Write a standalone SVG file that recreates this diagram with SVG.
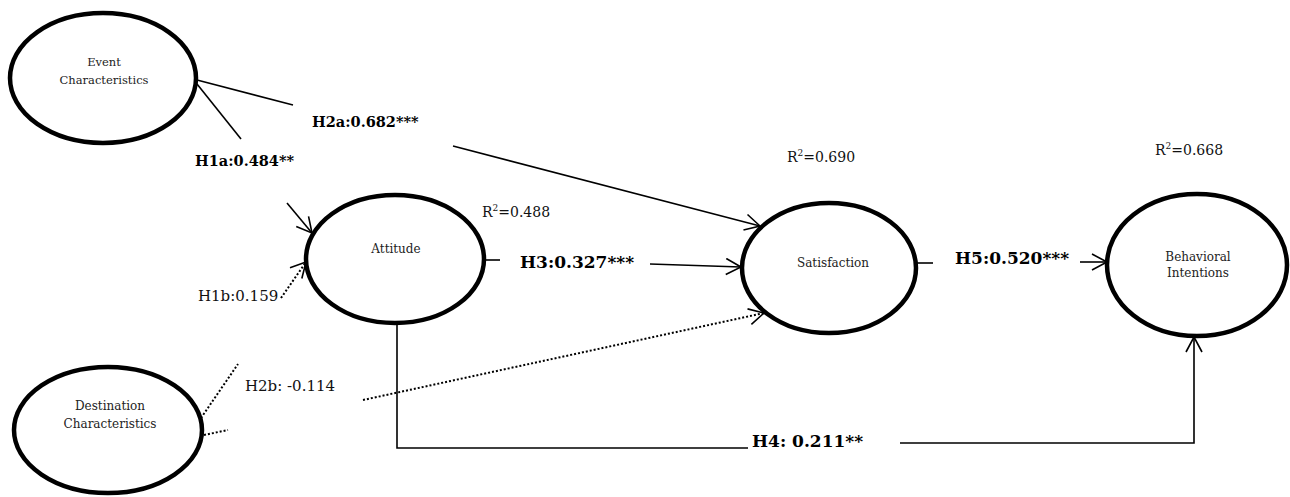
<svg xmlns="http://www.w3.org/2000/svg" width="1290" height="497" viewBox="0 0 1290 497">
<style>
.node ellipse{fill:#fff;stroke:#000;stroke-width:4.5}
.nt{font-family:"DejaVu Serif","Liberation Serif",serif;font-size:12px;fill:#222;text-anchor:middle}
.lbl{font-family:"DejaVu Serif","Liberation Serif",serif;font-size:15px;fill:#111}
.r2{font-size:14px}
.b{font-weight:bold;font-size:14.5px;fill:#000}
.bl{font-size:17px}
.c line,.c path{stroke:#000;stroke-width:1.6;fill:none}
.c .dot{stroke-width:2;stroke-dasharray:2 2}
</style>
<defs>
<marker id="ah" viewBox="-16 -9 18 18" refX="0" refY="0" markerWidth="18" markerHeight="18" markerUnits="userSpaceOnUse" orient="auto">
<path d="M-15,-8 L0,0 L-15,8" fill="none" stroke="#000" stroke-width="1.6"/>
</marker>
</defs>
<rect width="1290" height="497" fill="#fff"/>
<g class="c" id="connectors">
<line x1="197" y1="80" x2="293" y2="105"/>
<line x1="453" y1="146" x2="760" y2="226" marker-end="url(#ah)"/>
<line x1="197" y1="84" x2="241" y2="139"/>
<line x1="287" y1="203" x2="312" y2="233" marker-end="url(#ah)"/>
<line class="dot" x1="281" y1="298" x2="306" y2="262"/>
<path d="M296,273 L306,262" marker-end="url(#ah)" style="stroke:none"/>
<line x1="484" y1="260" x2="500" y2="260"/>
<line x1="650" y1="264" x2="741" y2="267" marker-end="url(#ah)"/>
<line x1="916" y1="263" x2="933" y2="263"/>
<line x1="1080" y1="262" x2="1107" y2="262" marker-end="url(#ah)"/>
<path d="M397,323 L397,448 L748,448"/>
<path d="M900,443 L1194,443 L1194,337" marker-end="url(#ah)"/>
<line class="dot" x1="201" y1="418" x2="238" y2="364"/>
<line class="dot" x1="204" y1="435" x2="228" y2="430"/>
<line class="dot" x1="363" y1="400" x2="764" y2="313"/>
<path d="M752,316 L764,313" marker-end="url(#ah)" style="stroke:none"/>
</g>
<g class="node" id="event"><ellipse cx="103" cy="78" rx="93" ry="65"/><text class="nt" x="104" y="66" style="font-size:11.5px">Event</text><text class="nt" x="104" y="84" style="font-size:11.5px">Characteristics</text></g>
<g class="node" id="destination"><ellipse cx="108" cy="430" rx="94" ry="63"/><text class="nt" x="110" y="410">Destination</text><text class="nt" x="110" y="428">Characteristics</text></g>
<g class="node" id="attitude"><ellipse cx="395" cy="259" rx="89" ry="64"/><text class="nt" x="396" y="253">Attitude</text></g>
<g class="node" id="satisfaction"><ellipse cx="829" cy="268" rx="87" ry="65"/><text class="nt" x="833" y="267">Satisfaction</text></g>
<g class="node" id="behavioral"><ellipse cx="1197" cy="265" rx="90" ry="71"/><text class="nt" x="1198" y="261">Behavioral</text><text class="nt" x="1198" y="277">Intentions</text></g>
<g id="labels">
<text class="lbl b" x="312" y="127">H2a:0.682***</text>
<text class="lbl b" x="195" y="166">H1a:0.484**</text>
<text class="lbl b bl" x="520" y="268">H3:0.327***</text>
<text class="lbl b bl" x="955" y="264">H5:0.520***</text>
<text class="lbl b bl" x="752" y="447">H4: 0.211**</text>
<text class="lbl" x="198" y="301">H1b:0.159</text>
<text class="lbl" x="245" y="391">H2b: -0.114</text>
<text class="lbl r2" x="482" y="217">R<tspan font-size="9" dy="-6">2</tspan><tspan dy="6">=0.488</tspan></text>
<text class="lbl r2" x="787" y="162">R<tspan font-size="9" dy="-6">2</tspan><tspan dy="6">=0.690</tspan></text>
<text class="lbl r2" x="1155" y="155">R<tspan font-size="9" dy="-6">2</tspan><tspan dy="6">=0.668</tspan></text>
</g>
</svg>
